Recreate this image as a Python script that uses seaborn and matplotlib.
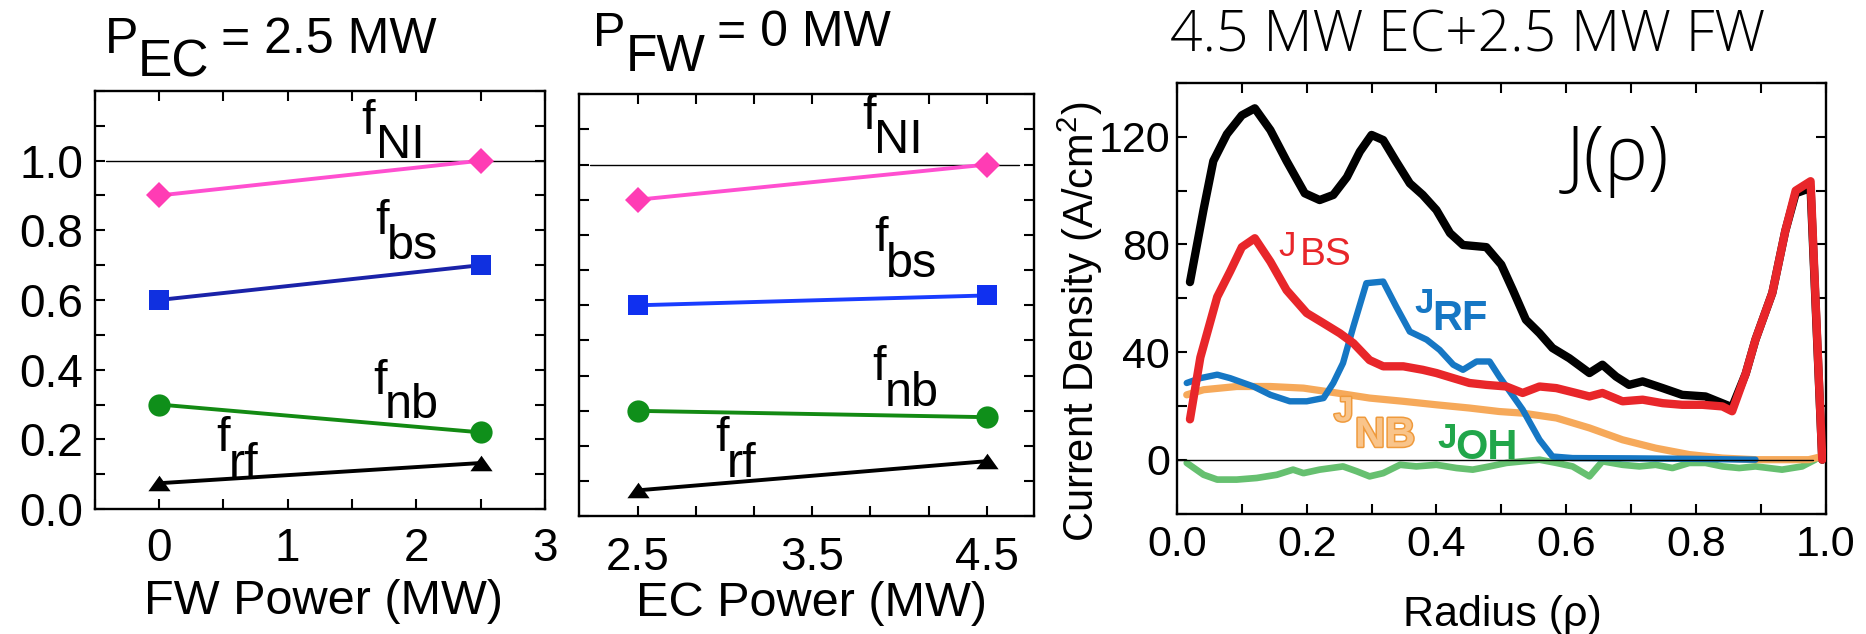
import matplotlib
matplotlib.use("Agg")
import matplotlib.pyplot as plt
import matplotlib.patheffects as pe
from matplotlib.ticker import FixedLocator, MultipleLocator, FormatStrFormatter, NullFormatter
import numpy as np
import seaborn as sns

# ---------------- data ----------------
fw_power = [0.0, 2.5]            # MW, left panel (P_EC = 2.5 MW)
ec_power = [2.5, 4.5]            # MW, middle panel (P_FW = 0 MW)

f_ni_fw = [0.90, 1.00]
f_bs_fw = [0.60, 0.70]
f_nb_fw = [0.30, 0.22]
f_rf_fw = [0.074, 0.132]

f_ni_ec = [0.90, 1.00]
f_bs_ec = [0.60, 0.628]
f_nb_ec = [0.30, 0.282]
f_rf_ec = [0.074, 0.157]

ni_reference = 1.0
j_reference = 0.0

rho_tot = [0.02, 0.041, 0.056, 0.077, 0.10, 0.12, 0.144, 0.169, 0.197, 0.22, 0.241,
           0.262, 0.282, 0.30, 0.318, 0.338, 0.359, 0.379, 0.40, 0.421, 0.441, 0.477,
           0.50, 0.518, 0.538, 0.559, 0.579, 0.605, 0.636, 0.656, 0.677, 0.697, 0.718,
           0.749, 0.779, 0.815, 0.856, 0.877, 0.892, 0.918, 0.938, 0.954, 0.977, 0.995]
j_tot = [66, 93, 111, 121, 128, 130.6, 122.5, 111, 99, 96.5, 98.4,
         105, 114.5, 120.7, 118.8, 110.8, 102.7, 98.4, 92.8, 84.2, 79.8, 79.0,
         72.5, 63, 52, 47, 41.5, 37.7, 32.2, 35.3, 30.9, 27.8, 29.1,
         26.6, 24.1, 23.5, 19.5, 32, 44.6, 62, 85, 99, 101, 0]

rho_bs = [0.02, 0.036, 0.062, 0.082, 0.10, 0.12, 0.144, 0.169, 0.20, 0.226, 0.251,
          0.272, 0.297, 0.318, 0.349, 0.379, 0.40, 0.426, 0.451, 0.477, 0.508, 0.533,
          0.559, 0.585, 0.615, 0.636, 0.656, 0.687, 0.718, 0.749, 0.779, 0.81, 0.841,
          0.856, 0.877, 0.892, 0.918, 0.938, 0.954, 0.977, 0.995]
j_bs = [15, 38, 60.5, 70, 79, 82.3, 73.6, 63, 54.5, 50.7, 47,
        43.3, 37, 34.7, 34.7, 33.4, 32.2, 30.3, 28.5, 27.8, 27.2, 24.8,
        27.2, 26.6, 24.8, 23.5, 24.8, 21.7, 22.3, 21, 20.4, 20.4, 19.8,
        18, 32, 44.6, 62, 85, 100, 103.5, 0]

rho_rf = [0.015, 0.036, 0.062, 0.082, 0.118, 0.144, 0.174, 0.20, 0.226, 0.241, 0.256,
          0.272, 0.292, 0.318, 0.338, 0.359, 0.385, 0.405, 0.426, 0.441, 0.462, 0.482,
          0.497, 0.533, 0.559, 0.579, 0.61, 0.70, 0.80, 0.892]
j_rf = [28.5, 30.3, 31.6, 30.3, 27.2, 24.1, 21.7, 21.7, 22.9, 28.5, 35.9,
        49.5, 65.6, 66.2, 56.9, 47.6, 44.6, 40.8, 35.3, 33.4, 36.5, 36.5,
        30.9, 18.6, 7.4, 1.2, 0.6, 0.5, 0.3, 0]

rho_nb = [0.015, 0.041, 0.092, 0.144, 0.195, 0.246, 0.297, 0.349, 0.40, 0.451, 0.497,
          0.533, 0.585, 0.636, 0.687, 0.738, 0.79, 0.841, 0.892, 0.974, 0.995]
j_nb = [24.1, 26, 27.2, 27.2, 26.6, 24.8, 22.9, 21.7, 20.4, 19.2, 17.9,
        17.3, 15.5, 11.8, 7.4, 4.3, 1.9, 0.6, 0, 0, 1.2]

rho_oh = [0.015, 0.041, 0.062, 0.092, 0.123, 0.154, 0.179, 0.195, 0.22, 0.256, 0.277,
          0.297, 0.318, 0.344, 0.369, 0.40, 0.431, 0.456, 0.482, 0.508, 0.533, 0.559,
          0.585, 0.61, 0.636, 0.656, 0.687, 0.713, 0.738, 0.764, 0.79, 0.815, 0.841,
          0.867, 0.892, 0.933, 0.964, 0.984]
j_oh = [-1.2, -5.6, -7.4, -7.4, -6.8, -5.6, -3.7, -5, -3.7, -2.5, -4.3,
        -6.2, -5, -1.9, -2.5, -1.9, -3.1, -3.7, -2.5, -1.2, -0.6, 0,
        -1.2, -2.5, -6.2, -0.6, -1.9, -2.5, -1.9, -3.1, -1.2, -1.2, -2.5,
        -3.1, -2.5, -3.7, -2.5, 0]

left_xticks = [0, 1, 2, 3]
frac_yticks = [0.0, 0.2, 0.4, 0.6, 0.8, 1.0]
mid_xticks = [2.5, 3.5, 4.5]
right_xticks = [0.0, 0.2, 0.4, 0.6, 0.8, 1.0]
right_yticks = [0, 40, 80, 120]

# ---------------- style ----------------
sns.set_theme(style="ticks")
plt.rcParams['font.family'] = ['Liberation Sans', 'DejaVu Sans']
plt.rcParams['mathtext.fontset'] = 'custom'
plt.rcParams['mathtext.rm'] = 'Liberation Sans'
plt.rcParams['mathtext.default'] = 'regular'
plt.rcParams['text.color'] = 'black'
plt.rcParams['axes.labelcolor'] = 'black'
plt.rcParams['xtick.color'] = 'black'
plt.rcParams['ytick.color'] = 'black'

W, H = 1866, 634
fig = plt.figure(figsize=(W / 100, H / 100), dpi=100)
fig.patch.set_facecolor('white')


def add_ax(x0, y0, x1, y1):
    return fig.add_axes([x0 / W, 1 - y1 / H, (x1 - x0) / W, (y1 - y0) / H])


def ptext(x, y, s, size, **kw):
    kw.setdefault('color', 'black')
    return fig.text(x / W, 1 - y / H, s, fontsize=size, ha='left', va='baseline', **kw)


def style_ax(ax, labelsize, xpad, ypad):
    ax.set_facecolor('white')
    for sp in ax.spines.values():
        sp.set_linewidth(1.7)
        sp.set_color('black')
    ax.tick_params(which='both', direction='in', top=True, right=True, length=7,
                   width=1.5, color='black', labelsize=labelsize, labelcolor='black')
    ax.tick_params(axis='x', which='both', pad=xpad)
    ax.tick_params(axis='y', which='both', pad=ypad)
    ax.grid(False)


axL = add_ax(94.6, 91, 545, 509)
axM = add_ax(579, 94.2, 1034, 516.4)
axR = add_ax(1177, 83, 1825.5, 513.5)

tri = [(-1, -0.7), (1, -0.7), (0, 0.7)]


def frac_line(ax, x, y, lcolor, marker, mcolor, ms):
    sns.lineplot(x=x, y=y, ax=ax, color=lcolor, linewidth=2.8, marker=marker,
                 markersize=ms, markerfacecolor=mcolor, markeredgecolor=mcolor,
                 markeredgewidth=0, clip_on=False, zorder=3)


# ---------------- left panel ----------------
axL.axhline(ni_reference, xmin=0.025, xmax=1.0, color='black', lw=1.0, zorder=1)
frac_line(axL, fw_power, f_ni_fw, '#ff4fd0', 'D', '#ff3cb4', 13)
frac_line(axL, fw_power, f_bs_fw, '#1a22a8', 's', '#1030e0', 14)
frac_line(axL, fw_power, f_nb_fw, '#138a13', 'o', '#0f8f1a', 16)
frac_line(axL, fw_power, f_rf_fw, 'black', tri, 'black', 16)
axL.set_xlim(-0.5, 3)
axL.set_ylim(0, 1.2)
axL.xaxis.set_major_locator(FixedLocator(left_xticks))
axL.xaxis.set_minor_locator(MultipleLocator(0.5))
axL.yaxis.set_major_locator(FixedLocator(frac_yticks))
axL.yaxis.set_minor_locator(MultipleLocator(0.1))
axL.yaxis.set_major_formatter(FormatStrFormatter('%.1f'))
style_ax(axL, 33, 13, 8)
axL.set_xlabel('FW Power (MW)', fontsize=35)
axL.xaxis.label.set_va('baseline')
axL.xaxis.set_label_coords(0.509, -0.25)
axL.set_ylabel('')

# ---------------- middle panel ----------------
axM.axhline(ni_reference, xmin=0.024, xmax=0.967, color='black', lw=1.0, zorder=1)
frac_line(axM, ec_power, f_ni_ec, '#ff4fd0', 'D', '#ff3cb4', 13)
frac_line(axM, ec_power, f_bs_ec, '#1a3cff', 's', '#1030f0', 14)
frac_line(axM, ec_power, f_nb_ec, '#138a13', 'o', '#0f8f1a', 16)
frac_line(axM, ec_power, f_rf_ec, 'black', tri, 'black', 16)
axM.set_xlim(2.165, 4.77)
axM.set_ylim(0, 1.2)
axM.xaxis.set_major_locator(FixedLocator(mid_xticks))
axM.xaxis.set_minor_locator(FixedLocator(np.linspace(2.5, 4.5, 7)))
axM.xaxis.set_major_formatter(FormatStrFormatter('%.1f'))
axM.yaxis.set_major_locator(MultipleLocator(0.1))
axM.yaxis.set_major_formatter(NullFormatter())
style_ax(axM, 33, 14, 8)
axM.set_xlabel('EC Power (MW)', fontsize=35)
axM.xaxis.label.set_va('baseline')
axM.xaxis.set_label_coords(0.51, -0.236)
axM.set_ylabel('')

# ---------------- right panel ----------------
sns.lineplot(x=rho_tot, y=j_tot, ax=axR, color='black', linewidth=6.0, zorder=2)
sns.lineplot(x=rho_oh, y=j_oh, ax=axR, color='#66c070', linewidth=4.8, zorder=2)
sns.lineplot(x=rho_nb, y=j_nb, ax=axR, color='#f6a95a', linewidth=5.2, zorder=3)
sns.lineplot(x=rho_rf, y=j_rf, ax=axR, color='#1677c4', linewidth=4.6, zorder=4)
sns.lineplot(x=rho_bs, y=j_bs, ax=axR, color='#e8262a', linewidth=6.0, zorder=5)
axR.axhline(j_reference, xmin=0.0, xmax=0.98, color='black', lw=1.0, zorder=6)
axR.set_xlim(0, 1)
axR.set_ylim(-20, 140)
axR.xaxis.set_major_locator(FixedLocator(right_xticks))
axR.xaxis.set_minor_locator(MultipleLocator(0.1))
axR.xaxis.set_major_formatter(FormatStrFormatter('%.1f'))
axR.yaxis.set_major_locator(FixedLocator(right_yticks))
axR.yaxis.set_minor_locator(MultipleLocator(20))
style_ax(axR, 31, 8, 5)
axR.set_xlabel('Radius (\u03c1)', fontsize=31)
axR.xaxis.label.set_va('baseline')
axR.xaxis.set_label_coords(0.501, -(626 - 513.5) / 430.5)
axR.set_ylabel('Current Density (A/cm$^{2}$)', fontsize=30)
axR.yaxis.label.set_va('center')
axR.yaxis.label.set_ha('center')
axR.yaxis.set_label_coords((1080 - 1177) / 648.5, (513.5 - 322) / 430.5)

# ---------------- titles ----------------
ptext(105, 52.6, 'P', 36)
ptext(138, 76.8, 'EC', 37)
ptext(221, 52.6, '= 2.5 MW', 36)

ptext(593, 46.5, 'P', 35)
ptext(626, 70.8, 'FW', 37)
ptext(717, 46.5, '= 0 MW', 36)

thin_font = ['Open Sans', 'DejaVu Sans']
ptext(1170, 52, '4.5 MW EC+2.5 MW FW', 41, family=thin_font, fontweight='light')

# ---------------- fraction labels ----------------
for (fx, fy, sub, sx, sy) in [
        (361, 133.6, 'NI', 376, 158), (375, 234.5, 'bs', 387, 258.8),
        (373, 394, 'nb', 385, 418.5), (216, 451, 'rf', 229, 477),
        (862, 128.6, 'NI', 874, 152.8), (874, 250.7, 'bs', 886, 277),
        (872, 380, 'nb', 885, 405.6), (715.6, 451, 'rf', 726.5, 477)]:
    ptext(fx, fy, 'f', 35)
    ptext(sx, sy, sub, 35)

# ---------------- current density labels ----------------
ptext(1278, 256, 'J', 25, color='#e8262a')
ptext(1300, 265, 'BS', 28, color='#e8262a')
ptext(1414, 313, 'J', 25, color='#1677c4', fontweight='bold')
ptext(1432, 330, 'RF', 30, color='#1677c4', fontweight='bold')
ptext(1334, 421, 'J', 25, color='#f9c48a', fontweight='bold',
      path_effects=[pe.withStroke(linewidth=2.2, foreground='#ef9a3c')])
ptext(1355, 446.7, 'NB', 30, color='#f9c48a', fontweight='bold',
      path_effects=[pe.withStroke(linewidth=2.2, foreground='#ef9a3c')])
ptext(1437, 448, 'J', 25, color='#21a64a', fontweight='bold')
ptext(1455, 459, 'OH', 30, color='#21a64a', fontweight='bold')

ptext(1566, 180, 'J(\u03c1)', 54, family=thin_font, fontweight='light')

fig.savefig('out.png', dpi=100, facecolor='white')
